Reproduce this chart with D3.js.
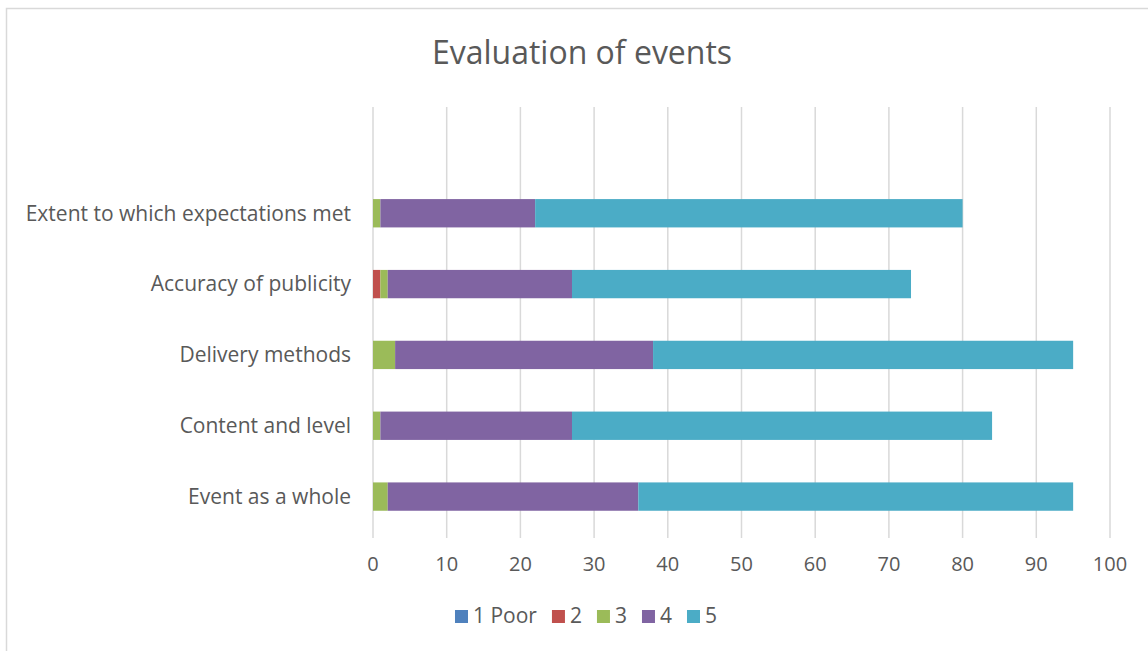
<!DOCTYPE html>
<html lang="en">
<head>
    <meta charset="UTF-8">
    <title>Evaluation of events</title>
    <style>
        body { margin: 0; overflow: hidden; background: #fff; }
        text { font-family: "Open Sans", Lato, sans-serif; fill: #595959; }
    </style>
</head>
<body>
    <script src="https://d3js.org/d3.v7.min.js"></script>
    <script>
        // categories top to bottom (Excel leaves an empty slot at the top)
        const categories = ["", "Extent to which expectations met", "Accuracy of publicity",
            "Delivery methods", "Content and level", "Event as a whole"];
        const seriesNames = ["1 Poor", "2", "3", "4", "5"];
        const seriesColors = ["#4F81BD", "#C0504D", "#9BBB59", "#8064A2", "#4BACC6"];

        // values per series, same order as categories
        const poor  = [0, 0, 0, 0, 0, 0];
        const two   = [0, 0, 1, 0, 0, 0];
        const three = [0, 1, 1, 3, 1, 2];
        const four  = [0, 21, 25, 35, 26, 34];
        const five  = [0, 58, 46, 57, 57, 59];
        const xTicks = [0, 10, 20, 30, 40, 50, 60, 70, 80, 90, 100];

        const width = 1148, height = 651;
        const margin = { top: 107, right: 38, bottom: 119, left: 373 };

        const svg = d3.select('body').append('svg')
            .attr('width', width)
            .attr('height', height);

        // chart border
        svg.append('rect')
            .attr('x', 6.5).attr('y', 8.5)
            .attr('width', width + 20).attr('height', height + 20)
            .attr('fill', 'none')
            .attr('stroke', '#D9D9D9')
            .attr('stroke-width', 1.5);

        svg.append('text')
            .attr('x', 582).attr('y', 64)
            .attr('text-anchor', 'middle')
            .style('font-size', '32px')
            .text('Evaluation of events');

        const x = d3.scaleLinear()
            .domain([0, 100])
            .range([margin.left, width - margin.right]);

        const y = d3.scaleBand()
            .domain(categories)
            .range([margin.top, height - margin.bottom])
            .paddingInner(0.6)
            .paddingOuter(0.3);

        // gridlines
        svg.append('g')
            .selectAll('line')
            .data(xTicks)
            .enter().append('line')
            .attr('x1', d => x(d)).attr('x2', d => x(d))
            .attr('y1', margin.top).attr('y2', height - margin.bottom + 6)
            .attr('stroke', '#D9D9D9')
            .attr('stroke-width', 1.5);

        // stacked bars
        const rows = categories.map((c, i) => ({
            cat: c, "1 Poor": poor[i], "2": two[i], "3": three[i], "4": four[i], "5": five[i]
        }));
        const stacked = d3.stack().keys(seriesNames)(rows);

        svg.append('g')
            .selectAll('g')
            .data(stacked)
            .enter().append('g')
            .attr('fill', (d, i) => seriesColors[i])
            .selectAll('rect')
            .data(d => d)
            .enter().append('rect')
            .attr('x', d => x(d[0]))
            .attr('y', d => y(d.data.cat))
            .attr('width', d => x(d[1]) - x(d[0]))
            .attr('height', y.bandwidth());

        // category labels
        svg.append('g')
            .selectAll('text')
            .data(categories.filter(c => c))
            .enter().append('text')
            .attr('x', margin.left - 22)
            .attr('y', d => y(d) + y.bandwidth() / 2)
            .attr('dy', '0.35em')
            .attr('text-anchor', 'end')
            .style('font-size', '21px')
            .text(d => d);

        // x tick labels
        svg.append('g')
            .selectAll('text')
            .data(xTicks)
            .enter().append('text')
            .attr('x', d => x(d))
            .attr('y', 571)
            .attr('text-anchor', 'middle')
            .style('font-size', '20px')
            .text(d => d);

        // legend
        const legend = svg.append('g');
        let lx = 0;
        seriesNames.forEach((name, i) => {
            const item = legend.append('g').attr('transform', `translate(${lx},0)`);
            item.append('rect')
                .attr('x', 0).attr('y', -13)
                .attr('width', 13).attr('height', 13)
                .attr('fill', seriesColors[i]);
            const t = item.append('text')
                .attr('x', 18).attr('y', 0)
                .style('font-size', '21px')
                .text(name);
            lx += 18 + t.node().getComputedTextLength() + 15;
        });
        const legendW = lx - 15;
        legend.attr('transform', `translate(${586 - legendW / 2},623)`);
    </script>
</body>
</html>
